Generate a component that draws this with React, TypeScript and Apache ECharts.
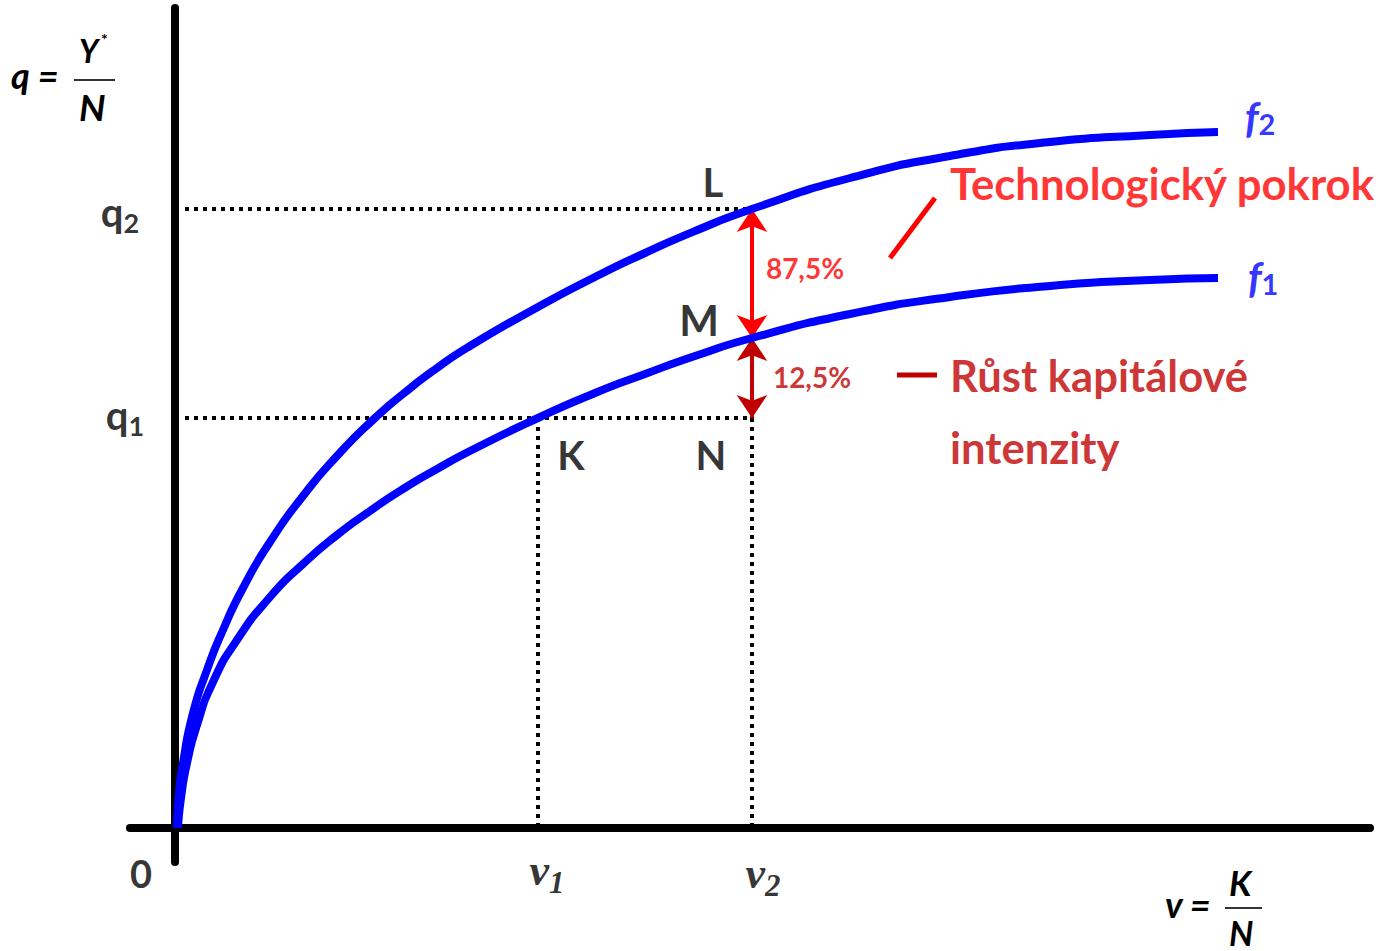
import React, { useEffect, useRef } from "react";
import * as echarts from "echarts";

// Production functions (v = K/N, q = Y*/N)
const f1Points: [number, number][] = [
  [0.03, 0], [0.06, 0.3], [0.12, 0.65], [0.22, 1.03], [0.38, 1.46], [0.62, 1.88],
  [0.95, 2.31], [1.28, 2.64], [1.62, 2.93], [1.95, 3.17], [2.28, 3.39], [2.62, 3.59],
  [2.95, 3.77], [3.63, 4.10], [4.2, 4.35], [4.7, 4.54], [5.2, 4.72], [5.77, 4.90],
  [6.75, 5.14], [7.75, 5.31], [8.75, 5.42], [9.75, 5.48], [10.43, 5.50],
];
const f2Points: [number, number][] = [
  [0.02, 0], [0.04, 0.35], [0.08, 0.65], [0.18, 1.15], [0.32, 1.58], [0.48, 1.98],
  [0.68, 2.40], [0.95, 2.86], [1.28, 3.32], [1.62, 3.72], [2.0, 4.10], [2.28, 4.34],
  [2.62, 4.60], [2.95, 4.82], [3.63, 5.21], [4.2, 5.51], [4.7, 5.75], [5.2, 5.97],
  [5.77, 6.19], [6.75, 6.50], [7.75, 6.72], [8.75, 6.86], [9.75, 6.93], [10.43, 6.96],
];

// Key levels
const v1 = 3.63;
const v2 = 5.77;
const q1 = 4.1;
const q2 = 6.19;
const qM = 4.9;
const guideStart = 0.1;

const pctTech = "87,5%";
const pctCap = "12,5%";

const SANS = 'Lato, "Open Sans", "Noto Sans", sans-serif';
const SERIF = '"Liberation Serif", "DejaVu Serif", serif';
const BLUE = "#0000FF";
const RED = "#FF0000";
const DARKRED = "#C00000";

type Lbl = {
  value: [number, number];
  text: string;
  color?: string;
  size?: number;
  align?: string;
  rich?: any;
};

const subRich = (main: any, sub: any) => ({
  m: { verticalAlign: "bottom", ...main },
  s: { verticalAlign: "bottom", ...sub },
});

const qRich = subRich(
  { fontSize: 40, fontWeight: "bold", fontFamily: SANS, color: "#000" },
  { fontSize: 27, fontWeight: "bold", fontFamily: SANS, color: "#000", padding: [0, 0, -4, 0] }
);
const vRich = subRich(
  { fontSize: 44, fontWeight: "bold", fontStyle: "italic", fontFamily: SERIF, color: "#000" },
  { fontSize: 31, fontWeight: "bold", fontStyle: "italic", fontFamily: SERIF, color: "#000", padding: [0, 0, -6, 0] }
);
const fRich = subRich(
  { fontSize: 42, fontWeight: "bold", fontStyle: "italic", fontFamily: SANS, color: BLUE },
  { fontSize: 29, fontFamily: SANS, color: BLUE }
);

const labels: Lbl[] = [
  { value: [-0.55, 6.16], text: "{m|q}{s|2}", rich: qRich },
  { value: [-0.5, 4.13], text: "{m|q}{s|1}", rich: qRich },
  { value: [-0.34, -0.45], text: "0", size: 38 },
  { value: [3.72, -0.42], text: "{m|v}{s|1}", rich: vRich },
  { value: [5.88, -0.45], text: "{m|v}{s|2}", rich: vRich },
  { value: [5.38, 6.46], text: "L", size: 40 },
  { value: [5.24, 5.08], text: "M", size: 42 },
  { value: [3.96, 3.73], text: "K", size: 40 },
  { value: [5.36, 3.73], text: "N", size: 40 },
  { value: [6.3, 5.6], text: pctTech, size: 28, color: RED },
  { value: [6.37, 4.51], text: pctCap, size: 28, color: DARKRED },
  { value: [10.85, 7.11], text: "{m|f}{s|2}", rich: fRich },
  { value: [10.88, 5.51], text: "{m|f}{s|1}", rich: fRich },
  { value: [7.75, 6.45], text: "Technologický pokrok", size: 43.7, color: RED, align: "left" },
  { value: [7.75, 4.53], text: "Růst kapitálové", size: 43.6, color: DARKRED, align: "left" },
  { value: [7.75, 3.81], text: "intenzity", size: 43.6, color: DARKRED, align: "left" },
];

const dotted = { color: "#000", width: 4, type: [4, 5] as any };

export default function App() {
  const ref = useRef<HTMLDivElement>(null);
  useEffect(() => {
    if (!ref.current) return;
    const chart = echarts.init(ref.current, null, { renderer: "svg" });
    const guide = (name: string, data: [number, number][]) => ({
      type: "line", name, data, symbol: "none", silent: true,
      lineStyle: dotted, z: 2,
    });
    const seg = (data: [number, number][], color: string) => ({
      type: "line", data, symbol: "none", silent: true,
      lineStyle: { color, width: 5 }, z: 4,
    });
    const arrow = (a: number, b: number, color: string) => ({
      type: "line", data: [], symbol: "none", silent: true,
      markLine: {
        silent: true,
        symbol: ["arrow", "arrow"],
        symbolSize: 23,
        label: { show: false },
        lineStyle: { color, width: 4, type: "solid" },
        data: [[{ coord: [v2, a] }, { coord: [v2, b] }]],
      },
      z: 6,
    });
    chart.setOption({
      animation: false,
      backgroundColor: "#fff",
      grid: { left: 130, right: 9, top: 8, bottom: 89, containLabel: false },
      xAxis: {
        type: "value", min: -0.45, max: 11.95,
        axisLine: { onZero: true, lineStyle: { color: "#000", width: 8 } },
        axisTick: { show: false }, axisLabel: { show: false }, splitLine: { show: false },
      },
      yAxis: {
        type: "value", min: -0.34, max: 8.2,
        axisLine: { onZero: true, lineStyle: { color: "#000", width: 8 } },
        axisTick: { show: false }, axisLabel: { show: false }, splitLine: { show: false },
      },
      graphic: [
        { type: "text", left: 11, top: 57, style: { text: "q =", font: `italic bold 36px ${SANS}`, fill: "#000" } },
        { type: "text", left: 79, top: 34, style: { text: "Y", font: `italic bold 32px ${SANS}`, fill: "#000" } },
        { type: "text", left: 101, top: 30, style: { text: "*", font: `bold 16px ${SANS}`, fill: "#000" } },
        { type: "line", shape: { x1: 74, y1: 80, x2: 115, y2: 80 }, style: { stroke: "#333", lineWidth: 2 } },
        { type: "text", left: 79, top: 88, style: { text: "N", font: `italic bold 37px ${SANS}`, fill: "#000" } },
        { type: "text", left: 1165, top: 886, style: { text: "v =", font: `italic bold 36px ${SANS}`, fill: "#000" } },
        { type: "line", shape: { x1: 1225, y1: 908, x2: 1262, y2: 908 }, style: { stroke: "#333", lineWidth: 2 } },
        { type: "text", left: 1229, top: 864, style: { text: "K", font: `italic bold 35px ${SANS}`, fill: "#000" } },
        { type: "text", left: 1229, top: 915, style: { text: "N", font: `italic bold 34px ${SANS}`, fill: "#000" } },
      ],
      series: [
        guide("q2 guide", [[guideStart, q2], [v2, q2]]),
        guide("q1 guide", [[guideStart, q1], [v2, q1]]),
        guide("v1 guide", [[v1, q1], [v1, 0]]),
        guide("v2 guide", [[v2, q1], [v2, 0]]),
        {
          type: "line", name: "f1", data: f1Points, smooth: 0.6,
          symbol: "none", lineStyle: { color: BLUE, width: 8 }, z: 5, silent: true,
        },
        {
          type: "line", name: "f2", data: f2Points, smooth: 0.6,
          symbol: "none", lineStyle: { color: BLUE, width: 8 }, z: 5, silent: true,
        },
        arrow(q2, qM, RED),
        arrow(qM, q1, DARKRED),
        seg([[7.6, 6.3], [7.15, 5.7]], RED),
        seg([[7.22, 4.53], [7.62, 4.53]], DARKRED),
        {
          type: "scatter", clip: false, silent: true, symbolSize: 0, z: 10,
          data: labels.map((l) => ({
            value: l.value,
            label: {
              show: true,
              position: "inside",
              align: l.align || "center",
              verticalAlign: "middle",
              formatter: l.text,
              color: l.color || "#000",
              fontSize: l.size || 38,
              fontWeight: "bold",
              fontFamily: SANS,
              rich: l.rich,
            },
          })),
        },
      ],
    });
    return () => chart.dispose();
  }, []);
  return (
    <div
      ref={ref}
      style={{ position: "fixed", left: 0, top: 0, width: 1379, height: 951, background: "#fff" }}
    />
  );
}
